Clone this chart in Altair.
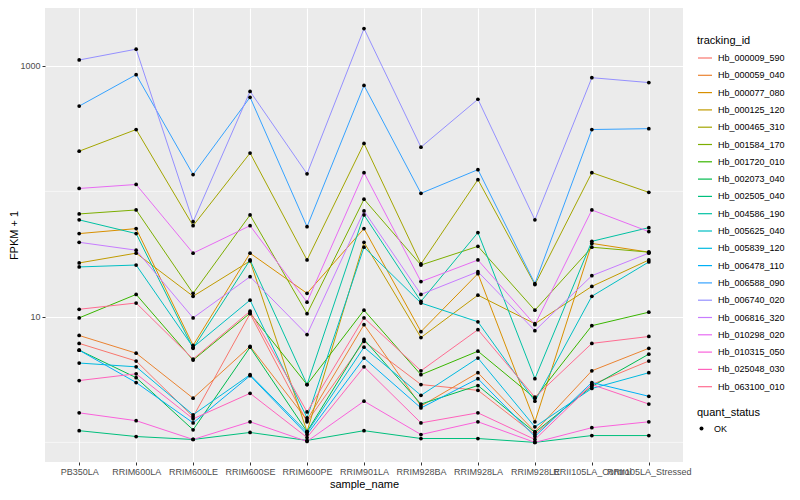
import altair as alt
import pandas as pd

samples = ["PB350LA", "RRIM600LA", "RRIM600LE", "RRIM600SE", "RRIM600PE",
           "RRIM901LA", "RRIM928BA", "RRIM928LA", "RRIM928LE",
           "RRII105LA_Control", "RRII105LA_Stressed"]

tracking_ids = ["Hb_000009_590", "Hb_000059_040", "Hb_000077_080", "Hb_000125_120",
                "Hb_000465_310", "Hb_001584_170", "Hb_001720_010", "Hb_002073_040",
                "Hb_002505_040", "Hb_004586_190", "Hb_005625_040", "Hb_005839_120",
                "Hb_006478_110", "Hb_006588_090", "Hb_006740_020", "Hb_006816_320",
                "Hb_010298_020", "Hb_010315_050", "Hb_025048_030", "Hb_063100_010"]

# FPKM + 1 per sample (order of `samples`)
hb_000009_590 = [6.15, 4.45, 1.60, 10.6, 1.46, 6.38, 2.89, 2.60, 1.155, 2.89, 4.45]
hb_000059_040 = [7.11, 5.14, 2.25, 5.83, 1.51, 8.66, 1.95, 3.59, 1.22, 3.72, 5.62]
hb_000077_080 = [46.1, 50.5, 5.93, 32.2, 15.4, 50.5, 7.63, 22.1, 1.46, 38.5, 32.8]
hb_000125_120 = [26.9, 32.2, 14.6, 27.9, 1.22, 39.3, 6.85, 14.9, 8.82, 17.5, 28.4]
hb_000465_310 = [209, 311, 53.3, 202, 28.4, 241, 26.4, 124, 18.1, 141, 98.2]
hb_001584_170 = [66.1, 71.1, 15.4, 64.9, 10.6, 86.6, 25.9, 36.5, 11.3, 35.9, 32.8]
hb_001720_010 = [9.82, 15.1, 4.53, 10.7, 2.89, 11.3, 3.46, 5.33, 2.25, 8.51, 10.9]
hb_002073_040 = [5.43, 3.28, 1.26, 5.73, 1.22, 6.61, 2.02, 2.84, 1.20, 2.79, 5.05]
hb_002505_040 = [1.24, 1.114, 1.055, 1.20, 1.037, 1.24, 1.074, 1.074, 1.00, 1.134, 1.134]
hb_004586_190 = [59.3, 46.1, 5.62, 28.4, 2.89, 64.9, 13.3, 47.0, 3.22, 40.0, 51.4]
hb_005625_040 = [25.0, 25.9, 5.73, 13.6, 1.57, 35.9, 12.9, 9.14, 2.13, 14.6, 27.4]
hb_005839_120 = [4.29, 4.00, 1.66, 3.46, 1.20, 5.73, 2.37, 4.70, 1.33, 2.69, 3.59]
hb_006478_110 = [5.43, 3.00, 1.43, 3.40, 1.155, 4.70, 1.88, 3.22, 1.114, 3.00, 2.33]
hb_006588_090 = [478, 851, 136, 562, 52.3, 698, 96.5, 149, 18.4, 311, 316]
hb_006740_020 = [1114, 1358, 57.3, 626, 138, 1982, 225, 542, 59.3, 805, 736]
hb_006816_320 = [39.3, 34.0, 9.82, 20.9, 7.23, 69.8, 15.1, 22.9, 7.77, 21.3, 32.2]
hb_010298_020 = [105.5, 113.5, 32.2, 53.3, 13.1, 141, 19.1, 28.4, 8.66, 71.1, 47.8]
hb_010315_050 = [1.72, 1.49, 1.055, 1.46, 1.018, 2.13, 1.155, 1.46, 1.00, 1.31, 1.46]
hb_025048_030 = [3.11, 3.52, 1.54, 2.46, 1.094, 4.00, 1.43, 1.72, 1.055, 2.89, 2.02]
hb_063100_010 = [11.5, 12.9, 4.61, 11.1, 1.75, 9.82, 3.72, 7.91, 2.29, 6.15, 6.98]

series = [hb_000009_590, hb_000059_040, hb_000077_080, hb_000125_120, hb_000465_310,
          hb_001584_170, hb_001720_010, hb_002073_040, hb_002505_040, hb_004586_190,
          hb_005625_040, hb_005839_120, hb_006478_110, hb_006588_090, hb_006740_020,
          hb_006816_320, hb_010298_020, hb_010315_050, hb_025048_030, hb_063100_010]

palette = ["#F8766D", "#EA8331", "#D89000", "#C09B00", "#A3A500", "#7CAE00", "#39B600",
           "#00BB4E", "#00BF7D", "#00C1A3", "#00BFC4", "#00BAE0", "#00B0F6", "#35A2FF",
           "#9590FF", "#C77CFF", "#E76BF3", "#FA62DB", "#FF62BC", "#FF6C91"]

major_breaks = [10, 1000]
minor_breaks = [1, 100]
y_domain = [0.698, 2891]

rows = []
for tid, vals in zip(tracking_ids, series):
    for s, v in zip(samples, vals):
        rows.append({"tracking_id": tid, "sample_name": s, "fpkm": v, "quant_status": "OK"})
df = pd.DataFrame(rows)
grid_df = pd.DataFrame({"fpkm": minor_breaks})

FONT = "Liberation Sans"

y_scale = alt.Scale(type="log", domain=y_domain, nice=False)
y_axis = alt.Axis(title="FPKM + 1", values=major_breaks, format="d", titleX=-26)
x_enc = alt.X("sample_name:N", sort=samples,
              scale=alt.Scale(type="point", padding=0.6),
              axis=alt.Axis(title="sample_name", labelAngle=0, labelOverlap=False,
                            labelBound=False, labelFlush=False, titlePadding=2))

minor = alt.Chart(grid_df).mark_rule(color="white", strokeWidth=0.55).encode(
    y=alt.Y("fpkm:Q", scale=y_scale, axis=y_axis)
)

lines = alt.Chart(df).mark_line(strokeWidth=1).encode(
    x=x_enc,
    y=alt.Y("fpkm:Q", scale=y_scale, axis=y_axis),
    color=alt.Color("tracking_id:N",
                    scale=alt.Scale(domain=tracking_ids, range=palette),
                    legend=alt.Legend(title="tracking_id", orient="none",
                                      legendX=652, legendY=27,
                                      symbolType="stroke", symbolSize=196,
                                      symbolStrokeWidth=1.2, labelOffset=5,
                                      rowPadding=4.3, titlePadding=4,
                                      labelFontSize=9, titleFontSize=11,
                                      labelFont=FONT, titleFont=FONT,
                                      titleFontWeight="normal", labelColor="black",
                                      titleColor="black")),
    detail="tracking_id:N",
)

points = alt.Chart(df).mark_point(filled=True, size=14, color="black", opacity=1).encode(
    x=x_enc,
    y=alt.Y("fpkm:Q", scale=y_scale, axis=y_axis),
    shape=alt.Shape("quant_status:N", scale=alt.Scale(range=["circle"]),
                    legend=alt.Legend(title="quant_status", orient="none",
                                      legendX=652, legendY=399,
                                      symbolSize=16, symbolFillColor="black",
                                      symbolStrokeColor="black", labelOffset=8,
                                      titlePadding=6, labelFontSize=9, titleFontSize=11,
                                      labelFont=FONT, titleFont=FONT,
                                      titleFontWeight="normal", labelColor="black",
                                      titleColor="black")),
)

chart = alt.layer(minor, lines, points).properties(
    width=638, height=454,
    padding={"left": 37, "top": 0, "right": 109, "bottom": 28},
    autosize=alt.AutoSizeParams(type="none"),
    background="white",
).configure_view(
    fill="#EBEBEB", strokeWidth=0
).configure_axis(
    domain=False, grid=True, gridColor="white", gridWidth=1.1,
    tickColor="#333333", tickSize=3, tickWidth=1,
    labelColor="#4D4D4D", labelFontSize=9, labelFont=FONT, labelPadding=2,
    titleFont=FONT, titleFontSize=11, titleFontWeight="normal", titleColor="black"
)

chart.save("out.html", embed_options={"renderer": "svg", "actions": False})
